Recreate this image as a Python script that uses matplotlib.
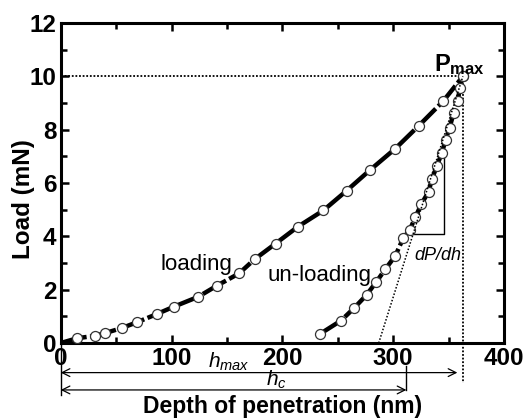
import matplotlib
matplotlib.use("Agg")
import matplotlib.pyplot as plt
from matplotlib.ticker import MultipleLocator

plt.rcParams['font.family'] = ['Liberation Sans', 'DejaVu Sans']
plt.rcParams['mathtext.fontset'] = 'custom'
plt.rcParams['mathtext.rm'] = 'Liberation Sans'
plt.rcParams['mathtext.it'] = 'Liberation Sans:italic'
plt.rcParams['mathtext.bf'] = 'Liberation Sans:bold'

# Loading curve (depth nm, load mN)
load_h = [0, 15, 31, 40, 55, 69, 87, 102, 124, 141, 161, 175, 194, 214, 237,
          258, 279, 302, 323, 345, 363]
load_P = [0, 0.18, 0.27, 0.37, 0.56, 0.78, 1.09, 1.36, 1.73, 2.15, 2.61, 3.14,
          3.73, 4.36, 4.97, 5.71, 6.48, 7.29, 8.14, 9.06, 10.0]

# Unloading curve
unload_h = [234, 253, 265, 276, 285, 293, 302, 309, 315, 320, 325.5, 332, 335,
            339.5, 344, 347.5, 351, 354.7, 358.6, 360, 363]
unload_P = [0.34, 0.84, 1.32, 1.80, 2.30, 2.77, 3.27, 3.92, 4.24, 4.71, 5.21,
            5.67, 6.14, 6.64, 7.13, 7.63, 8.08, 8.63, 9.08, 9.56, 10.0]

h_max = 363
h_c = 312
P_max = 10.0
tangent_h = [287, 363]
tangent_P = [0, 10.0]

fig = plt.figure(figsize=(5.26, 4.18), dpi=100)
ax = fig.add_axes([0.1154, 0.1794, 0.8426, 0.7656])

line_kw = dict(color='black', lw=3.2, dashes=(6, 0.8), zorder=2)
mk_kw = dict(marker='o', ms=7.2, mfc='white', mec='#333333', mew=0.9, ls='none', zorder=3)
ax.plot(load_h, load_P, **line_kw)
ax.plot(load_h[1:], load_P[1:], **mk_kw)
ax.plot(unload_h, unload_P, **line_kw)
ax.plot(unload_h, unload_P, **mk_kw)

# tangent dotted line
ax.plot(tangent_h, tangent_P, color='black', lw=1.1, ls=(0, (1, 1.2)), zorder=4)
# horizontal dotted at Pmax
ax.plot([0, h_max], [P_max, P_max], color='black', lw=1.3, ls=(0, (1, 1.0)), zorder=1)
# vertical dotted at h_max
ax.plot([h_max, h_max], [P_max, -1.49], color='black', lw=1.3, ls=(0, (1, 1.0)),
        zorder=1, clip_on=False)

# slope triangle
ax.plot([315, 345.5, 345.5], [4.07, 4.07, 7.1], color='black', lw=1.0, zorder=1)
ax.text(319, 3.3, 'dP/dh', fontsize=13, style='italic', va='center', ha='left')

ax.text(122.6, 2.96, 'loading', fontsize=16, ha='center', va='center')
ax.text(233.6, 2.52, 'un-loading', fontsize=16, ha='center', va='center')
ax.text(337, 10.2, r'$\mathbf{P_{max}}$', fontsize=17, ha='left', va='baseline')

# arrows below axis
ax.plot([0, 0], [0, -1.95], color='black', lw=1.0, clip_on=False)
ax.plot([h_c, h_c], [-0.86, -1.76], color='black', lw=1.0, clip_on=False)
ax.annotate('', xy=(0, -1.11), xytext=(h_max - 5, -1.11), xycoords='data',
            arrowprops=dict(arrowstyle='<->', lw=0.9, color='black',
                            shrinkA=0, shrinkB=0, mutation_scale=14),
            annotation_clip=False)
ax.annotate('', xy=(0, -1.76), xytext=(h_c, -1.76), xycoords='data',
            arrowprops=dict(arrowstyle='<->', lw=0.9, color='black',
                            shrinkA=0, shrinkB=0, mutation_scale=14),
            annotation_clip=False)
ax.text(152, -0.92, r'$h_{max}$', fontsize=15, ha='center', va='baseline', clip_on=False)
ax.text(195, -1.6, r'$h_c$', fontsize=15, ha='center', va='baseline', clip_on=False)

ax.set_xlim(0, 400)
ax.set_ylim(0, 12)
ax.xaxis.set_major_locator(MultipleLocator(100))
ax.xaxis.set_minor_locator(MultipleLocator(50))
ax.yaxis.set_major_locator(MultipleLocator(2))
ax.yaxis.set_minor_locator(MultipleLocator(1))
ax.tick_params(which='both', direction='in', top=True, right=True, width=1.8)
ax.tick_params(which='major', length=6, labelsize=17.5, pad=3)
ax.tick_params(which='minor', length=4)
for lab in ax.get_xticklabels() + ax.get_yticklabels():
    lab.set_fontweight('bold')
for s in ax.spines.values():
    s.set_linewidth(2.2)

ax.set_xlabel('Depth of penetration (nm)', fontsize=16.5, fontweight='bold')
ax.set_ylabel('Load (mN)', fontsize=17.5, fontweight='bold')
ax.xaxis.set_label_coords(0.5, -0.163)
ax.yaxis.set_label_coords(-0.057, 0.45)

fig.savefig('out.png', dpi=100)
